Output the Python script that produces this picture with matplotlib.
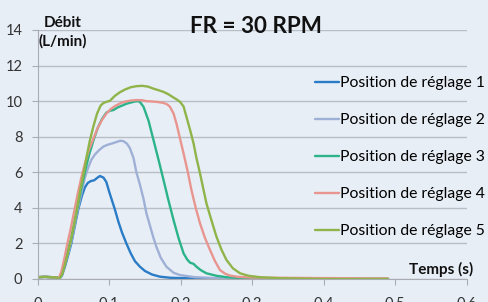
import matplotlib.pyplot as plt

# courbes (temps en s, debit en L/min)
t1 = [0, 0.010, 0.020, 0.027, 0.030, 0.034, 0.038, 0.043, 0.047, 0.052, 0.057, 0.062, 0.066,
      0.070, 0.074, 0.079, 0.083, 0.087, 0.092, 0.096, 0.100, 0.104, 0.108, 0.113, 0.118, 0.124,
      0.130, 0.136, 0.143, 0.150, 0.160, 0.171, 0.185, 0.200, 0.230, 0.260, 0.300, 0.400, 0.490]
q1 = [0.10, 0.12, 0.10, 0.08, 0.00, 0.20, 0.69, 1.40, 2.00, 3.00, 3.97, 4.70, 5.15,
      5.40, 5.50, 5.55, 5.68, 5.79, 5.70, 5.45, 4.90, 4.40, 3.90, 3.20, 2.60, 2.00,
      1.45, 1.00, 0.69, 0.45, 0.25, 0.13, 0.07, 0.05, 0.03, 0.02, 0.00, 0.00, 0.00]

t2 = [0, 0.010, 0.020, 0.027, 0.030, 0.034, 0.038, 0.043, 0.047, 0.052, 0.057, 0.062, 0.066,
      0.070, 0.075, 0.080, 0.086, 0.092, 0.098, 0.104, 0.110, 0.115, 0.120, 0.125, 0.129, 0.134,
      0.138, 0.143, 0.148, 0.152, 0.157, 0.162, 0.166, 0.172, 0.180, 0.190, 0.199, 0.220, 0.250,
      0.300, 0.400, 0.490]
q2 = [0.10, 0.12, 0.10, 0.08, 0.00, 0.25, 0.80, 1.50, 2.10, 3.10, 4.10, 5.00, 5.70,
      6.20, 6.70, 7.00, 7.25, 7.45, 7.55, 7.62, 7.70, 7.77, 7.75, 7.60, 7.35, 6.80,
      6.00, 5.30, 4.50, 3.70, 3.00, 2.30, 1.81, 1.20, 0.69, 0.35, 0.22, 0.10, 0.05,
      0.00, 0.00, 0.00]

t3 = [0, 0.010, 0.020, 0.027, 0.030, 0.034, 0.038, 0.043, 0.047, 0.052, 0.057, 0.062, 0.067,
      0.072, 0.078, 0.084, 0.090, 0.096, 0.101, 0.106, 0.112, 0.118, 0.124, 0.130, 0.136, 0.140,
      0.143, 0.148, 0.155, 0.162, 0.169, 0.176, 0.183, 0.190, 0.197, 0.204, 0.209, 0.213, 0.218,
      0.222, 0.228, 0.236, 0.250, 0.264, 0.300, 0.400, 0.490]
q3 = [0.10, 0.12, 0.10, 0.08, 0.00, 0.30, 0.90, 1.70, 2.30, 3.30, 4.30, 5.30, 6.20,
      7.00, 7.80, 8.50, 9.00, 9.35, 9.46, 9.50, 9.65, 9.75, 9.85, 9.92, 9.98, 10.00,
      9.95, 9.68, 8.90, 7.80, 6.70, 5.56, 4.40, 3.31, 2.30, 1.44, 1.10, 0.92, 0.85,
      0.69, 0.50, 0.32, 0.18, 0.10, 0.02, 0.00, 0.00]

t4 = [0, 0.010, 0.020, 0.027, 0.029, 0.033, 0.037, 0.041, 0.046, 0.051, 0.056, 0.061, 0.066,
      0.072, 0.078, 0.084, 0.090, 0.096, 0.102, 0.108, 0.115, 0.122, 0.130, 0.138, 0.146, 0.152,
      0.160, 0.168, 0.176, 0.181, 0.185, 0.190, 0.194, 0.199, 0.204, 0.210, 0.215, 0.221, 0.227,
      0.234, 0.241, 0.248, 0.255, 0.262, 0.269, 0.280, 0.300, 0.400, 0.490]
q4 = [0.10, 0.12, 0.10, 0.08, 0.00, 0.40, 1.10, 1.90, 2.80, 3.80, 4.80, 5.70, 6.50,
      7.30, 7.90, 8.50, 8.95, 9.30, 9.55, 9.72, 9.87, 9.97, 10.03, 10.06, 10.05, 10.00,
      9.98, 9.95, 9.90, 9.82, 9.68, 9.30, 8.75, 7.90, 7.06, 6.00, 5.00, 4.00, 3.13,
      2.30, 1.63, 1.00, 0.50, 0.30, 0.19, 0.12, 0.08, 0.05, 0.03]

t5 = [0, 0.010, 0.020, 0.027, 0.030, 0.034, 0.038, 0.043, 0.047, 0.052, 0.056, 0.060, 0.065,
      0.069, 0.073, 0.078, 0.083, 0.088, 0.092, 0.097, 0.101, 0.108, 0.115, 0.122, 0.130, 0.138,
      0.146, 0.154, 0.162, 0.170, 0.176, 0.183, 0.190, 0.195, 0.199, 0.204, 0.208, 0.213, 0.218,
      0.222, 0.227, 0.232, 0.236, 0.243, 0.250, 0.257, 0.264, 0.273, 0.283, 0.295, 0.311, 0.340,
      0.400, 0.490]
q5 = [0.10, 0.12, 0.10, 0.08, 0.00, 0.25, 0.80, 1.60, 2.30, 3.30, 4.20, 5.10, 6.10,
      7.00, 7.80, 8.60, 9.30, 9.75, 9.90, 9.97, 10.02, 10.30, 10.50, 10.65, 10.78, 10.84,
      10.86, 10.82, 10.70, 10.60, 10.52, 10.38, 10.20, 10.08, 9.96, 9.70, 9.12, 8.40, 7.62,
      6.80, 5.94, 5.00, 4.25, 3.30, 2.38, 1.65, 1.07, 0.60, 0.32, 0.18, 0.10, 0.04,
      0.00, 0.00]

series = [t1, t2, t3, t4, t5]
values = [q1, q2, q3, q4, q5]
labels = ["Position de réglage 1", "Position de réglage 2", "Position de réglage 3",
          "Position de réglage 4", "Position de réglage 5"]
colors = ["#2a7cc6", "#9fb0d6", "#2bb389", "#e9958f", "#8fb449"]

xticks = [0, 0.1, 0.2, 0.3, 0.4, 0.5, 0.6]
yticks = [0, 2, 4, 6, 8, 10, 12, 14]

plt.rcParams["font.family"] = ["Lato", "DejaVu Sans"]

fig = plt.figure(figsize=(4.88, 3.02), dpi=100)
fig.patch.set_facecolor("#e8eef6")
ax = fig.add_axes([0.0773, 0.0762, 0.879, 0.8245])
ax.set_facecolor("none")

for t, q, lab, col in zip(series, values, labels, colors):
    ax.plot(t, q, color=col, lw=1.7, label=lab, solid_capstyle="round")

ax.set_xlim(0, 0.6)
ax.set_ylim(0, 14)
ax.set_xticks(xticks)
ax.set_xticklabels([f"{v:g}" for v in xticks])
ax.set_yticks(yticks)
ax.grid(axis="y", color="#b9bdc4", lw=1)
ax.set_axisbelow(True)
for side in ["top", "right"]:
    ax.spines[side].set_visible(False)
for side in ["left", "bottom"]:
    ax.spines[side].set_color("#a9adb3")
ax.tick_params(axis="both", colors="#a9adb3", labelcolor="#333333", labelsize=10.5,
               length=4, pad=7)
ax.tick_params(axis="x", pad=9)

ax.legend(loc="upper left", bbox_to_anchor=(0.632, 0.84), frameon=False, fontsize=11.3,
          handlelength=1.55, handletextpad=0.05, labelspacing=1.47, borderaxespad=0)

fig.text(0.525, 0.912, "FR = 30 RPM", fontsize=16.2, fontweight="bold", ha="center", va="center",
         color="#111111")
fig.text(0.128, 0.925, "Débit", fontsize=11, fontweight="bold", ha="center", va="center",
         color="#111111")
fig.text(0.128, 0.862, "(L/min)", fontsize=11, fontweight="bold", ha="center", va="center",
         color="#111111")
fig.text(0.903, 0.107, "Temps (s)", fontsize=11, fontweight="bold", ha="center", va="center",
         color="#111111")

fig.savefig("out.png", dpi=100, facecolor=fig.get_facecolor())
